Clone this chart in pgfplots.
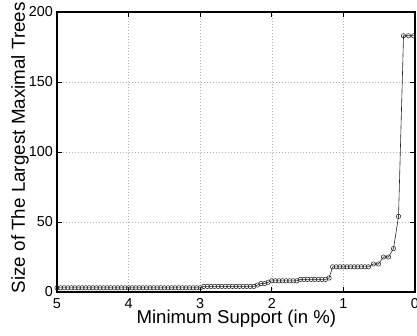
\documentclass[border=0pt]{standalone}
\usepackage{pgfplots}
\pgfplotsset{compat=1.18}
\usepackage{fontspec}
\setmainfont{Liberation Sans}
\begin{document}
\begin{tikzpicture}
\begin{axis}[
  scale only axis,
  width=358pt, height=280pt,
  xmin=0, xmax=5, ymin=0, ymax=200,
  x dir=reverse,
  xtick={0,1,2,3,4,5},
  ytick={0,50,100,150,200},
  tick align=inside,
  major tick length=5pt,
  axis line style={line width=1.1pt},
  every tick/.style={black, line width=0.6pt},
  grid=major,
  major grid style={gray!60, line width=0.5pt, dash pattern=on 1pt off 2pt},
  /pgf/number format/assume math mode=true,
  tick label style={font=\fontsize{14.4}{17}\selectfont},
  xticklabel style={anchor=base, yshift=-16.5pt},
  yticklabel style={anchor=east, inner sep=0pt, xshift=-4pt},
  xlabel={Minimum Support (in \%)},
  ylabel={Size of The Largest Maximal Trees},
  xlabel style={font=\fontsize{18.6}{22}\selectfont, at={(axis description cs:0.501,-0.1107)}, anchor=base},
  ylabel style={font=\fontsize{18.8}{22}\selectfont, at={(axis description cs:-0.103,0.515)}, anchor=center},
]
\addplot[black!85, line width=0.6pt, mark=o, mark size=2.2pt, mark options={line width=0.55pt}] coordinates {
(5.00,3)(4.95,3)(4.90,3)(4.85,3)(4.80,3)(4.75,3)(4.70,3)(4.65,3)(4.60,3)(4.55,3)
(4.50,3)(4.45,3)(4.40,3)(4.35,3)(4.30,3)(4.25,3)(4.20,3)(4.15,3)(4.10,3)(4.05,3)
(4.00,3)(3.95,3)(3.90,3)(3.85,3)(3.80,3)(3.75,3)(3.70,3)(3.65,3)(3.60,3)(3.55,3)
(3.50,3)(3.45,3)(3.40,3)(3.35,3)(3.30,3)(3.25,3)(3.20,3)(3.15,3)(3.10,3)(3.05,3)
(3.00,3)
(2.95,4)(2.90,4)(2.85,4)(2.80,4)(2.75,4)(2.70,4)(2.65,4)(2.60,4)(2.55,4)(2.50,4)
(2.45,4)(2.40,4)(2.35,4)(2.30,4)(2.25,4)
(2.20,5)(2.15,6)(2.10,6)(2.05,7)
(2.00,8)(1.95,8)(1.90,8)(1.85,8)(1.80,8)(1.75,8)(1.70,8)(1.65,8)
(1.60,9)(1.55,9)(1.50,9)(1.45,9)(1.40,9)(1.35,9)(1.30,9)(1.25,9)
(1.20,10)
(1.15,18)(1.10,18)(1.05,18)(1.00,18)(0.95,18)(0.90,18)(0.85,18)(0.80,18)(0.75,18)(0.70,18)(0.65,18)
(0.58,20)(0.51,20)(0.44,25)(0.37,25)(0.30,31)(0.23,54)(0.16,183)(0.09,183)(0.02,183)
};
\end{axis}
\pgfresetboundingbox
\path ([xshift=-57pt,yshift=-43pt]current axis.south west) rectangle ([xshift=2pt,yshift=12pt]current axis.north east);
\end{tikzpicture}
\end{document}
